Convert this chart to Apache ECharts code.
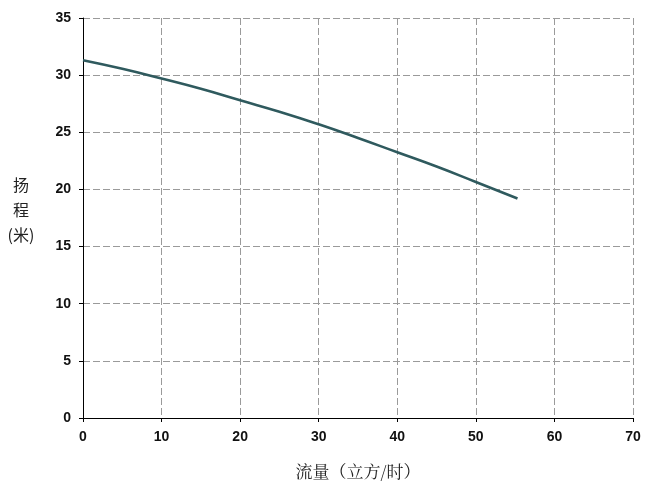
<!DOCTYPE html>
<html><head><meta charset="utf-8">
<script src="https://cdn.jsdelivr.net/npm/echarts@6/dist/echarts.min.js"></script>
<style>html,body{margin:0;padding:0;background:#fff}#c{width:651px;height:487px}</style>
</head><body><div id="c"></div>
<script>
const flow = [0, 5, 10, 15, 20, 25, 30, 35, 40, 45, 50, 55.3];
const head = [31.3, 30.55, 29.7, 28.8, 27.8, 26.8, 25.7, 24.5, 23.25, 22.0, 20.65, 19.2];
const xName = '流量（立方/时）';
const yName = '扬\n程\n(米)';

const chart = echarts.init(document.getElementById('c'));
const labelStyle = {color:'#111', fontFamily:'Liberation Sans, Arial', fontWeight:'bold', fontSize:14};
const gridLine = {show:true, lineStyle:{color:'#9a9a9a', type:[7,3], width:1}};
chart.setOption({
  animation:false,
  grid:{left:83, right:18, top:18, bottom:69},
  xAxis:{type:'value', min:0, max:70, interval:10,
    name:xName, nameLocation:'middle', nameGap:45,
    nameTextStyle:{fontFamily:'Noto Serif CJK SC, Noto Sans CJK SC', fontSize:17, color:'#222'},
    axisLine:{show:true, onZero:false, lineStyle:{color:'#000', width:1}},
    axisTick:{show:true, length:4, lineStyle:{color:'#000'}},
    axisLabel:Object.assign({margin:12}, labelStyle),
    splitLine:gridLine
  },
  yAxis:{type:'value', min:0, max:35, interval:5,
    axisLine:{show:true, lineStyle:{color:'#000', width:1}},
    axisTick:{show:true, length:4, lineStyle:{color:'#000'}},
    axisLabel:Object.assign({margin:12}, labelStyle),
    splitLine:gridLine
  },
  graphic:[{type:'text', x:21, y:172,
    style:{text:yName, fill:'#222', font:'16px "Noto Sans CJK SC"', lineHeight:25, align:'center'}}],
  series:[{type:'line', data:flow.map((x,i)=>[x, head[i]]), smooth:true, showSymbol:false,
    lineStyle:{color:'#2f5a5e', width:2.6}}]
});
</script></body></html>
